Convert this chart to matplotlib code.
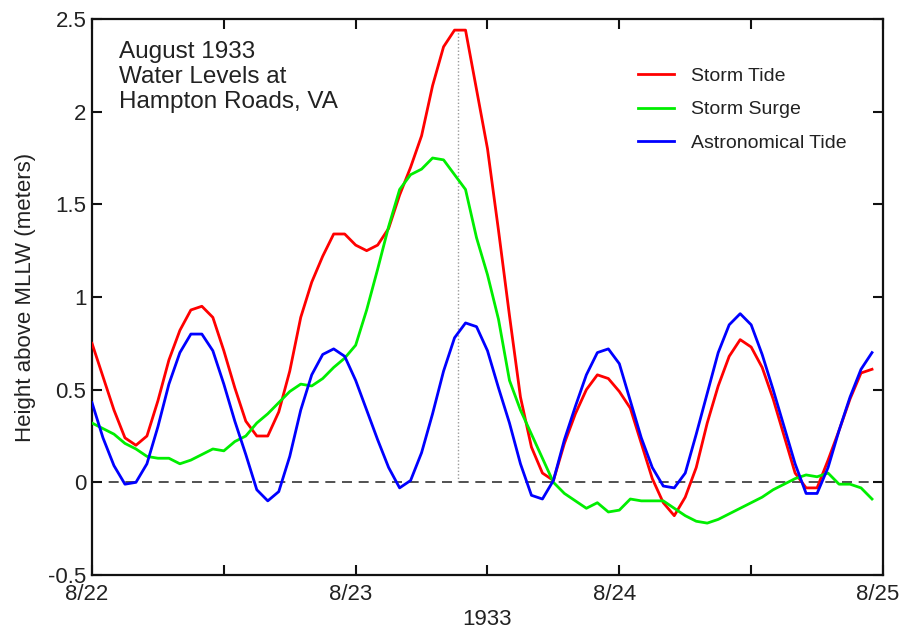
import matplotlib
matplotlib.use("Agg")
import matplotlib.pyplot as plt
import matplotlib.transforms as mtransforms
import numpy as np

plt.rcParams['font.family'] = ['Liberation Sans', 'DejaVu Sans']

# hours since 8/22 00:00 (hourly)
hours = list(range(72))

storm_tide = [0.75, 0.57, 0.39, 0.24, 0.20, 0.25, 0.44, 0.66, 0.82, 0.93,
              0.95, 0.89, 0.71, 0.51, 0.33, 0.25, 0.25, 0.38, 0.60, 0.89,
              1.08, 1.22, 1.34, 1.34, 1.28, 1.25, 1.28, 1.37, 1.55, 1.70,
              1.87, 2.14, 2.35, 2.44, 2.44, 2.12, 1.80, 1.36, 0.90, 0.46,
              0.19, 0.05, 0.01, 0.21, 0.37, 0.50, 0.58, 0.56, 0.49, 0.40,
              0.21, 0.02, -0.11, -0.18, -0.08, 0.08, 0.32, 0.52, 0.68, 0.77,
              0.73, 0.62, 0.45, 0.25, 0.05, -0.03, -0.03, 0.12, 0.28, 0.45,
              0.59, 0.61]

storm_surge = [0.32, 0.29, 0.26, 0.21, 0.18, 0.14, 0.13, 0.13, 0.10, 0.12,
               0.15, 0.18, 0.17, 0.22, 0.25, 0.32, 0.37, 0.43, 0.49, 0.53,
               0.52, 0.56, 0.62, 0.67, 0.74, 0.93, 1.15, 1.38, 1.58, 1.66,
               1.69, 1.75, 1.74, 1.66, 1.58, 1.32, 1.12, 0.88, 0.55, 0.39,
               0.26, 0.13, 0.00, -0.06, -0.10, -0.14, -0.11, -0.16, -0.15, -0.09,
               -0.10, -0.10, -0.10, -0.14, -0.18, -0.21, -0.22, -0.20, -0.17, -0.14,
               -0.11, -0.08, -0.04, -0.01, 0.02, 0.04, 0.03, 0.05, -0.01, -0.01,
               -0.03, -0.09]

astro_tide = [0.43, 0.24, 0.09, -0.01, 0.00, 0.10, 0.30, 0.53, 0.70, 0.80,
              0.80, 0.71, 0.53, 0.33, 0.15, -0.04, -0.10, -0.05, 0.14, 0.39,
              0.58, 0.69, 0.72, 0.68, 0.55, 0.39, 0.23, 0.08, -0.03, 0.01,
              0.16, 0.37, 0.60, 0.78, 0.86, 0.84, 0.71, 0.51, 0.32, 0.10,
              -0.07, -0.09, 0.01, 0.23, 0.41, 0.58, 0.70, 0.72, 0.64, 0.44,
              0.24, 0.08, -0.02, -0.03, 0.05, 0.26, 0.48, 0.70, 0.85, 0.91,
              0.85, 0.69, 0.50, 0.30, 0.10, -0.06, -0.06, 0.08, 0.28, 0.46,
              0.61, 0.70]

series_names = ['Storm Tide', 'Storm Surge', 'Astronomical Tide']
series_colors = ['#ff0000', '#00ee00', '#0000ff']

peak_hour = 33.3
peak_value = 2.44

xtick_pos = [0, 12, 24, 36, 48, 60, 72]
xtick_labels = ['8/22', '', '8/23', '', '8/24', '', '8/25']
ytick_pos = [-0.5, 0, 0.5, 1, 1.5, 2, 2.5]
ytick_labels = ['-0.5', '0', '0.5', '1', '1.5', '2', '2.5']

title_text = 'August 1933\nWater Levels at\nHampton Roads, VA'

fig = plt.figure(figsize=(9.03, 6.29), dpi=100)
ax = fig.add_axes([92/903, 54/629, 791/903, 556/629])

ax.axhline(0, color='#333333', lw=1.2, ls=(0, (6, 4)), zorder=1)
ax.plot([peak_hour, peak_hour], [0, peak_value], color='#999999', lw=1.0,
        ls=(0, (1, 1.5)), zorder=1)

for vals, name, col in zip([storm_tide, storm_surge, astro_tide], series_names, series_colors):
    ax.plot(hours, vals, color=col, lw=2.0, label=name, zorder=3)

ax.set_xlim(0, 72)
ax.set_ylim(-0.5, 2.5)
ax.set_xticks(xtick_pos)
ax.set_xticklabels(xtick_labels)
ax.set_yticks(ytick_pos)
ax.set_yticklabels(ytick_labels)
ax.tick_params(direction='in', length=7, width=1.5, top=True, right=True,
               labelsize=16, pad=4, colors='#111111', labelcolor='#222222')
ax.tick_params(axis='x', pad=6.5)
for s in ax.spines.values():
    s.set_linewidth(1.6)
    s.set_color('#111111')

shift = mtransforms.ScaledTranslation(-5/100, 0, fig.dpi_scale_trans)
for lab in ax.get_xticklabels():
    lab.set_transform(lab.get_transform() + shift)

ax.set_ylabel('Height above MLLW (meters)', fontsize=16, color='#222222', labelpad=8.5)
ax.set_xlabel('1933', fontsize=16, color='#222222', labelpad=3)

ax.text(0.034, 0.961, title_text, transform=ax.transAxes, fontsize=17.5,
        va='top', ha='left', color='#222222', linespacing=1.2)

leg = ax.legend(loc='upper left', bbox_to_anchor=((638 - 92) / 791, (575 - 67) / 556),
                frameon=False, fontsize=14, handlelength=1.85, handletextpad=0.9,
                labelspacing=0.83, borderpad=0, borderaxespad=0)
for t in leg.get_texts():
    t.set_color('#222222')

fig.savefig('out.png', dpi=100)
